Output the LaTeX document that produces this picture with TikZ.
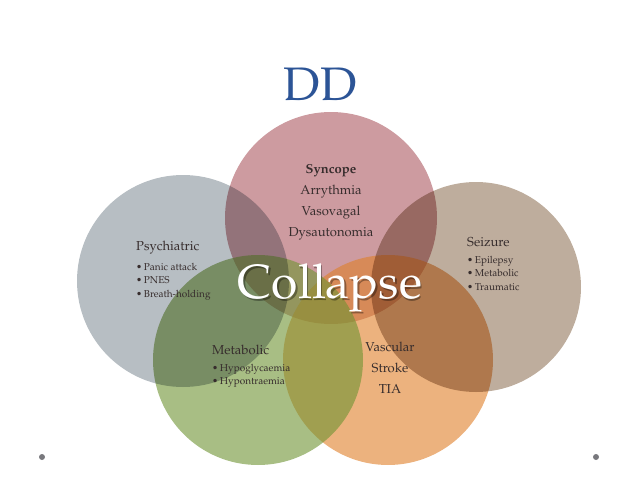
\documentclass[tikz,border=0pt]{standalone}
\usepackage[T1]{fontenc}
\usepackage{mathpazo}
\definecolor{synccol}{RGB}{205,155,160}
\definecolor{psychcol}{RGB}{183,190,195}
\definecolor{seizcol}{RGB}{190,173,157}
\definecolor{metacol}{RGB}{110,147,50}
\definecolor{vasccol}{RGB}{223,127,40}
\definecolor{titlecol}{RGB}{44,84,150}
\definecolor{textcol}{RGB}{55,45,45}
\definecolor{dotcol}{RGB}{120,120,125}
\begin{document}
\begin{tikzpicture}[x=1pt,y=-1pt]
      \tikzset{venn/.style={fill=#1},
          glass/.style={fill=#1, fill opacity=0.6},
          head/.style={font=\fontsize{13}{21}\selectfont, text=textcol, inner sep=0pt},
          items/.style={font=\fontsize{10}{13.5}\selectfont, align=left,
              text=textcol, inner sep=0pt}
      }
      \useasboundingbox (0,0) rectangle (638,479);
      % the five circles
      \begin{scope}[transparency group]
        \fill [venn=synccol] (331,218) circle [radius=106pt];
        \fill [glass=vasccol] (388,360) circle [radius=105pt];
        \fill [glass=metacol] (258,360) circle [radius=105pt];
        \begin{scope}[blend mode=multiply]
          \fill [venn=psychcol] (183,281) circle [radius=106pt];
          \fill [venn=seizcol] (476,287) circle [radius=105pt];
        \end{scope}
      \end{scope}

      \node [font=\fontsize{47}{47}\selectfont, text=titlecol] (title) at (320,84) {DD};

      \node [head, align=center] (syncope) at (331,202)
          {\textbf{Syncope}\\Arrythmia\\Vasovagal\\Dysautonomia};

      \node [head, anchor=west] (psych) at (136,248) {Psychiatric};
      \node [items, anchor=north west] (psychlist) at (136,263)
          {\textbullet\,Panic attack\\\textbullet\,PNES\\\textbullet\,Breath-holding};

      \node [head, anchor=west] (seiz) at (467,242) {Seizure};
      \node [items, anchor=north west] (seizlist) at (467,256)
          {\textbullet\,Epilepsy\\\textbullet\,Metabolic\\\textbullet\,Traumatic};

      \node [head, anchor=west] (meta) at (212,350) {Metabolic};
      \node [items, anchor=north west] (metalist) at (212,364)
          {\textbullet\,Hypoglycaemia\\\textbullet\,Hypontraemia};

      \node [head, align=center] (vasc) at (390,368) {Vascular\\Stroke\\TIA};

      \node [font=\fontsize{48}{48}\selectfont, text=black, opacity=0.35] (shadow) at (331.5,289.5) {Collapse};
      \node [font=\fontsize{48}{48}\selectfont, text=white] (collapse) at (330,288) {Collapse};

      \fill [dotcol] (42,457) circle [radius=3pt];
      \fill [dotcol] (596,457) circle [radius=3pt];
\end{tikzpicture}
\end{document}
